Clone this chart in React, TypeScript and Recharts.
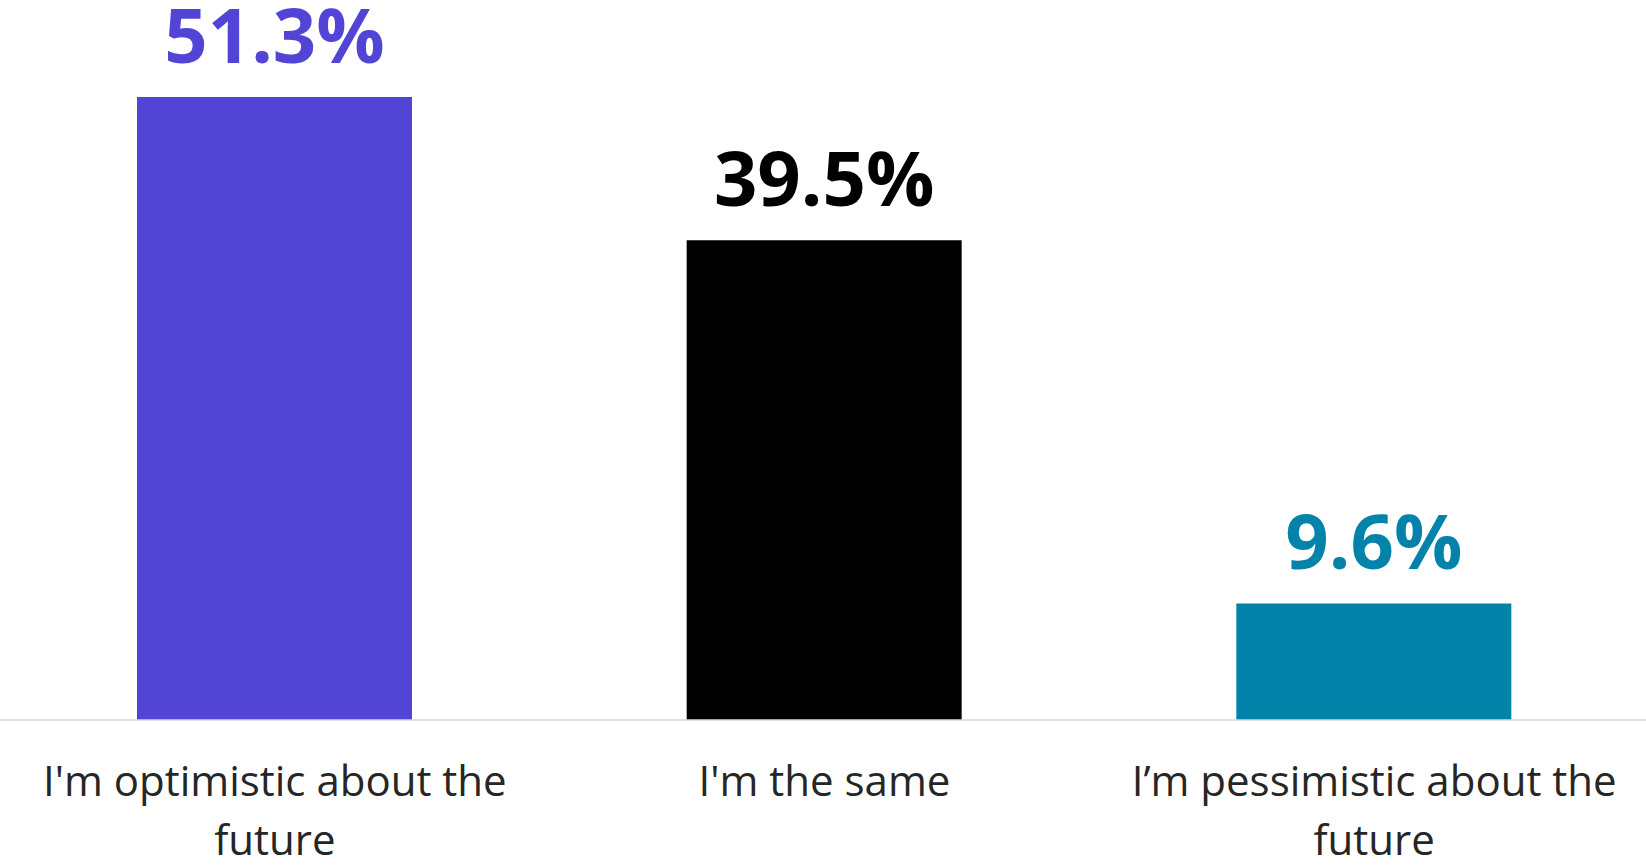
import { BarChart, Bar, XAxis, YAxis, Cell, LabelList } from 'recharts';

const categories = ["I'm optimistic about the future", "I'm the same", 'I’m pessimistic about the future'];
const shares = [51.3, 39.5, 9.6];
const tickLines = [["I'm optimistic about the", 'future'], ["I'm the same"], ['I’m pessimistic about the', 'future']];
const barColors = ['#5245d6', '#000000', '#0383aa'];

const chartData = categories.map((name, i) => ({ name, value: shares[i], color: barColors[i], lines: tickLines[i] }));

const FONT = '"Open Sans", "Noto Sans", sans-serif';

function CategoryTick(props: any) {
  const { x, y, index } = props;
  const lines = chartData[index]?.lines ?? [];
  return (
    <text x={x} y={y} textAnchor="middle" fill="#262626" fontFamily={FONT} fontSize={42}>
      {lines.map((line: string, i: number) => (
        <tspan key={i} x={x} dy={i === 0 ? 68 : 59}>
          {line}
        </tspan>
      ))}
    </text>
  );
}

function ValueLabel(props: any) {
  const { x, y, width, index, value } = props;
  return (
    <text
      x={x + width / 2}
      y={y - 34}
      textAnchor="middle"
      fill={chartData[index].color}
      fontFamily={FONT}
      fontWeight={700}
      fontSize={76}
    >
      {`${value}%`}
    </text>
  );
}

export default function App() {
  return (
    <div style={{ position: 'absolute', left: 0, top: 0, width: 1646, height: 865, background: '#fff', overflow: 'hidden' }}>
      <BarChart
        width={1649}
        height={865}
        data={chartData}
        margin={{ top: 52, right: 0, bottom: 0, left: 0 }}
        barSize={275}
      >
        <XAxis
          dataKey="name"
          height={145}
          interval={0}
          tickLine={false}
          axisLine={{ stroke: '#d9d9d9', strokeWidth: 1.5 }}
          tick={<CategoryTick />}
        />
        <YAxis hide domain={[0, 55]} />
        <Bar dataKey="value" isAnimationActive={false}>
          {chartData.map((d, i) => (
            <Cell key={`cell-${i}`} fill={d.color} />
          ))}
          <LabelList dataKey="value" content={<ValueLabel />} />
        </Bar>
      </BarChart>
    </div>
  );
}
